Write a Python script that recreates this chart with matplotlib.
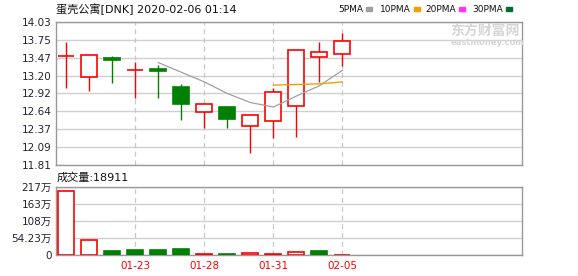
import matplotlib
matplotlib.use('Agg')
import matplotlib.pyplot as plt
from matplotlib.patches import Rectangle
import numpy as np

plt.rcParams['font.family'] = ['DejaVu Sans', 'Noto Sans CJK SC']

RED = '#ff0000'
GREEN = '#008000'
GRID = '#d0d0d0'
SPINE = '#999999'
TXT = '#222233'

# daily data
dates = ['01-17', '01-21', '01-22', '01-23', '01-24', '01-27', '01-28',
         '01-29', '01-30', '01-31', '02-03', '02-04', '02-05']
opens = [13.50, 13.17, 13.47, 13.28, 13.30, 13.02, 12.63, 12.71, 12.41, 12.49, 12.72, 13.48, 13.53]
highs = [13.72, 13.51, 13.50, 13.41, 13.36, 13.07, 12.78, 12.71, 12.58, 13.01, 13.59, 13.72, 13.86]
lows = [13.01, 12.96, 13.09, 12.855, 12.855, 12.51, 12.38, 12.39, 12.00, 12.225, 12.25, 13.10, 13.34]
closes = [13.50, 13.51, 13.44, 13.28, 13.27, 12.76, 12.75, 12.52, 12.58, 12.94, 13.59, 13.56, 13.73]

ma5 = [np.nan, np.nan, np.nan, np.nan, 13.40, 13.25, 13.10, 12.92, 12.78, 12.71, 12.88, 13.04, 13.28]
ma10 = [np.nan] * 9 + [13.05, 13.06, 13.07, 13.10]

# volume in 万 shares
volumes = [202.4, 48.4, 13.6, 17.7, 17.7, 20.9, 4.1, 3.5, 8.2, 3.5, 10.4, 13.6, 1.8911]
vol_colors = ['r', 'r', 'g', 'g', 'g', 'g', 'r', 'g', 'r', 'r', 'r', 'g', 'r']

price_labels = ['11.81', '12.09', '12.37', '12.64', '12.92', '13.20', '13.47', '13.75', '14.03']
vol_labels = ['0', '54.23万', '108万', '163万', '217万']
date_ticks = ['01-23', '01-28', '01-31', '02-05']

W, H = 578, 276
fig = plt.figure(figsize=(W / 100, H / 100), dpi=100)

def fx(px):
    return px / W

def fy(py):
    return 1 - py / H

ax = fig.add_axes([fx(56), fy(165), fx(522) - fx(56), fy(22) - fy(165)])
axv = fig.add_axes([fx(56), fy(255.3), fx(522) - fx(56), fy(186.7) - fy(255.3)])

x = np.arange(len(dates))
bw = 0.7
xlim = (-0.45, 19.81)
vpos = [dates.index(d) for d in date_ticks]

# candles
for i in x:
    o, h, l, c = opens[i], highs[i], lows[i], closes[i]
    up = c >= o
    col = RED if up else GREEN
    ax.vlines(i, l, h, color=col, lw=1.0, zorder=2)
    bottom = min(o, c)
    height = max(abs(c - o), 0.003)
    ax.bar(i, height, bottom=bottom, width=bw,
           facecolor='white' if up else GREEN, edgecolor=col, lw=1.2, zorder=3)

ax.plot(x, ma5, color='#a0a0a0', lw=0.9, zorder=4)
ax.plot(x, ma10, color='#f0a000', lw=1.0, zorder=4)

ax.set_xlim(*xlim)
ax.set_ylim(11.81, 14.03)
ax.set_yticks(np.linspace(11.81, 14.03, len(price_labels)))
ax.set_yticklabels(price_labels)
ax.set_xticks([])
ax.yaxis.grid(True, color=GRID, lw=1.0)
ax.set_axisbelow(True)

# volume bars
for i in x:
    col = RED if vol_colors[i] == 'r' else GREEN
    hollow = vol_colors[i] == 'r'
    axv.bar(i, volumes[i], width=bw, facecolor='white' if hollow else GREEN,
            edgecolor=col, lw=1.2, zorder=3)

axv.set_xlim(*xlim)
axv.set_ylim(0, 216.92)
axv.set_yticks(np.linspace(0, 216.92, len(vol_labels)))
axv.set_yticklabels(vol_labels)
axv.set_xticks(vpos)
axv.set_xticklabels(date_ticks, color=RED, fontsize=7.5)
axv.yaxis.grid(True, color=GRID, lw=1.0)
axv.set_axisbelow(True)

for a in (ax, axv):
    for p in vpos:
        a.axvline(p, color='#c8c8c8', lw=0.9, ls=(0, (4, 3)), zorder=1)
    for s in a.spines.values():
        s.set_color(SPINE)
        s.set_linewidth(1.0)
    a.tick_params(length=0, pad=3, labelsize=7.5, colors=TXT)
axv.tick_params(axis='x', colors=RED, pad=4)

# header texts
fig.text(fx(56), fy(9), '蛋壳公寓[DNK] 2020-02-06 01:14', fontsize=8,
         color='#111111', ha='left', va='center')
fig.text(fx(57), fy(178), '成交量:18911', fontsize=8, color='#111111',
         ha='left', va='center')

legend = [('5PMA', '#a0a0a0', 338), ('10PMA', '#f0a000', 380),
          ('20PMA', '#ff33ff', 425), ('30PMA', '#006f2e', 472)]
for name, col, px in legend:
    t = fig.text(fx(px), fy(9), name, fontsize=6.5, color='#111111',
                 ha='left', va='center')
    fig.canvas.draw()
    bb = t.get_window_extent()
    x0 = bb.x1 + 3
    fig.patches.append(Rectangle((x0 / W, fy(10.5)), 6 / W, 3 / H,
                                 transform=fig.transFigure, color=col))

# watermark
fig.text(fx(450), fy(31), '东方财富网', fontsize=10, fontweight='bold',
         color='#d6d6d6', ha='left', va='center')
fig.text(fx(451), fy(42.5), 'eastmoney.com', fontsize=6, fontweight='bold',
         color='#d6d6d6', ha='left', va='center')

fig.savefig('out.png', dpi=100)
